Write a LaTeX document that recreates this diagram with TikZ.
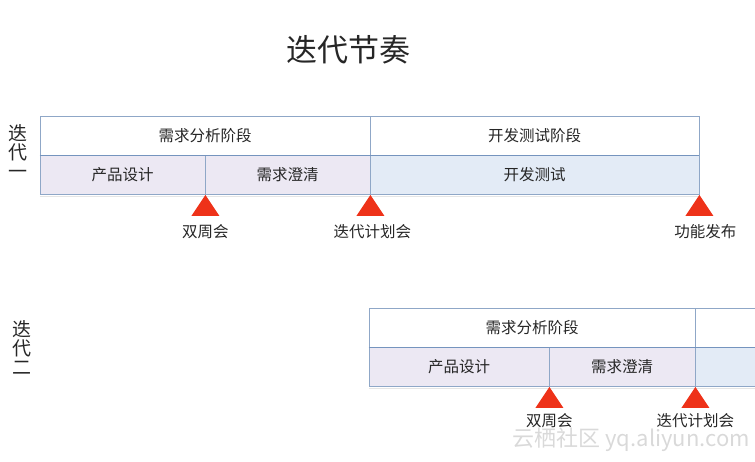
\documentclass[tikz,border=0pt]{standalone}
\usepackage{fontspec}
\setmainfont{Noto Sans CJK SC}
\usetikzlibrary{positioning}
\definecolor{barline}{HTML}{8FA7C7}
\definecolor{midline}{HTML}{7594BE}
\definecolor{reqfill}{HTML}{ECE8F3}
\definecolor{devfill}{HTML}{E3EBF6}
\definecolor{msred}{HTML}{EE3219}
\definecolor{txt}{HTML}{262626}
\tikzset{
  milestone/.pic={\fill[msred](0,0)--(14,21)--(-14,21)--cycle;}
}

\begin{document}
\begin{tikzpicture}[x=1pt,y=-1pt,
  bar/.style={draw=barline,line width=0.8pt,inner sep=0pt,minimum height=39pt,
    text=txt,font=\fontsize{15.5}{15.5}\selectfont},
  phase/.style={bar,fill=white},
  reqtask/.style={bar,fill=reqfill},
  devtask/.style={bar,fill=devfill},
  mslabel/.style={text=txt,font=\fontsize{15.5}{15.5}\selectfont,inner sep=0pt},
  itlabel/.style={text=txt,font=\fontsize{19}{19}\selectfont,align=center,inner sep=0pt}]
\useasboundingbox(0,0)rectangle(755,462);
\clip(0,0)rectangle(755,462);
\node[text=txt,font=\fontsize{31}{31}\selectfont](title)at(348,50){迭代节奏};
% iteration one
\node[itlabel](it1)at(18,152){迭\\代\\一};
\node[phase,minimum width=330pt](req1)at(205,135.5){需求分析阶段};
\node[phase,minimum width=329pt](dev1)at(534.5,135.5){开发测试阶段};
\node[reqtask,minimum width=165pt](design1)at(122.5,175){产品设计};
\node[reqtask,minimum width=165pt](clarify1)at(287.5,175){需求澄清};
\node[devtask,minimum width=329pt](test1)at(534.5,175){开发测试};
\draw[midline,line width=1.2pt](req1.south west)--(dev1.south east);
\draw[black!10,line width=1.5pt](design1.south west)++(0,1.5)coordinate(s1)--(test1.south east|-s1);
\pic at(design1.south east){milestone};
\pic at(clarify1.south east){milestone};
\pic at(test1.south east){milestone};
\node[mslabel,below=29pt of design1.south east](week1){双周会};
\node[mslabel,below=29pt of clarify1.south east,xshift=2pt](plan1){迭代计划会};
\node[mslabel,below=29pt of test1.south east,xshift=6pt](release1){功能发布};
% iteration two
\node[itlabel](it2)at(22,348){迭\\代\\二};
\node[phase,minimum width=326pt](req2)at(532,327.5){需求分析阶段};
\node[phase,minimum width=90pt,anchor=west](dev2)at(req2.east){};
\node[reqtask,minimum width=180pt](design2)at(459,367){产品设计};
\node[reqtask,minimum width=146pt](clarify2)at(622,367){需求澄清};
\node[devtask,minimum width=90pt,anchor=west](test2)at(clarify2.east){};
\draw[midline,line width=1.2pt](req2.south west)--(dev2.south east);
\draw[black!10,line width=1.5pt](design2.south west)++(0,1.5)coordinate(s2)--(test2.south east|-s2);
\pic at(design2.south east){milestone};
\pic at(clarify2.south east){milestone};
\node[mslabel,below=26pt of design2.south east](week2){双周会};
\node[mslabel,below=26pt of clarify2.south east](plan2){迭代计划会};
\node[text=black!15,font=\fontsize{22}{22}\selectfont,anchor=east,inner sep=0pt](mark)at(750,440){云栖社区 yq.aliyun.com};
\end{tikzpicture}
\end{document}
